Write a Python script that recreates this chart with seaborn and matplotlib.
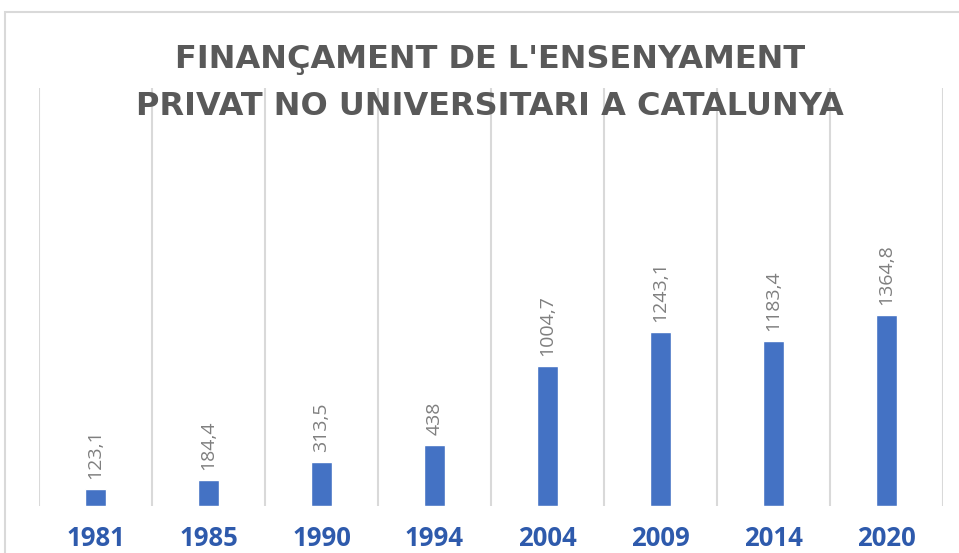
import matplotlib
matplotlib.use("Agg")
import matplotlib.pyplot as plt
import seaborn as sns
import pandas as pd
from matplotlib.patches import Rectangle

years = ["1981", "1985", "1990", "1994", "2004", "2009", "2014", "2020"]
values = [123.1, 184.4, 313.5, 438, 1004.7, 1243.1, 1183.4, 1364.8]
title = "FINANÇAMENT DE L'ENSENYAMENT\nPRIVAT NO UNIVERSITARI A CATALUNYA"

df = pd.DataFrame({"year": years, "value": values})

sns.set_style("white")
plt.rcParams["font.family"] = ["Open Sans", "DejaVu Sans"]

fig = plt.figure(figsize=(9.59, 5.53), dpi=100)
fig.patches.append(Rectangle((5 / 959, -0.1), 1.1, (553 - 12) / 553 + 0.1,
                             transform=fig.transFigure, fill=False,
                             edgecolor="#d9d9d9", linewidth=1.5))
ax = fig.add_axes([39 / 959, 47 / 553, (943 - 39) / 959, (506 - 88) / 553])

sns.barplot(data=df, x="year", y="value", color="#4472C4", width=0.19,
            saturation=1, ax=ax)

labels = [f"{v:g}".replace(".", ",") for v in values]
ax.bar_label(ax.containers[0], labels=labels, rotation=90, padding=7,
             color="#7f7f7f", fontsize=14)

ax.set_xlim(-0.5, len(years) - 0.5)
ax.set_ylim(0, 2990)
ax.set_xticks([i + 0.5 for i in range(-1, len(years))], minor=True)
ax.grid(True, which="minor", axis="x", color="#d9d9d9", linewidth=1.5)
ax.tick_params(axis="x", which="both", length=0)
ax.tick_params(axis="x", which="major", pad=14)
ax.set_yticks([])
for lab in ax.get_xticklabels():
    lab.set_fontsize(18.5)
    lab.set_fontweight("bold")
    lab.set_color("#2E5AAC")
for s in ax.spines.values():
    s.set_visible(False)
ax.set_xlabel("")
ax.set_ylabel("")

fig.text(490 / 959, 1 - 83 / 553, title, ha="center", va="center",
         fontsize=23, fontweight="bold", color="#595959", linespacing=1.7,
         family=["DejaVu Sans"])

fig.savefig("out.png", dpi=100)
